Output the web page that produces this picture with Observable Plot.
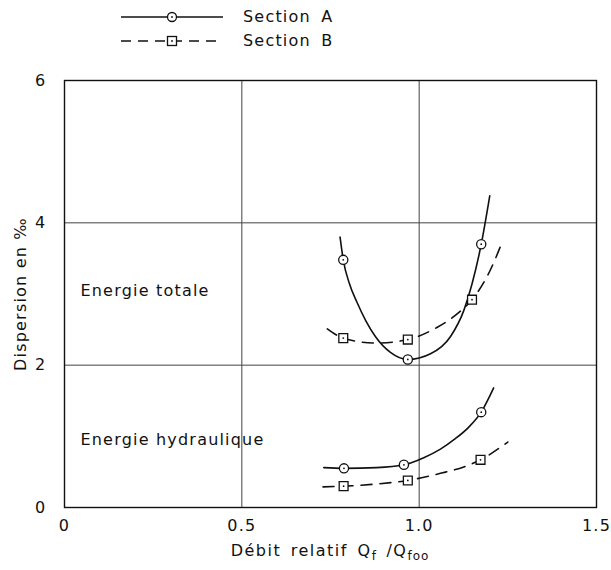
<!DOCTYPE html>
<html>
<head>
<meta charset="utf-8">
<script src="https://cdn.jsdelivr.net/npm/d3@7"></script>
<script src="https://cdn.jsdelivr.net/npm/@observablehq/plot@0.6"></script>
<style>
  body { margin: 0; background: #fff; font-family: "DejaVu Sans", sans-serif; }
  #wrap { width: 611px; height: 570px; position: relative; }
  #legend { height: 56px; position: relative; }
  #legend .row { position: absolute; left: 120px; display: flex; align-items: center; }
  #legend .lab { margin-left: 19px; font-size: 16px; letter-spacing: 1.2px; word-spacing: 4px; color: #111; }
  #xlabel { position: absolute; left: 0; width: 660px; top: 541px; text-align: center; font-size: 16px; letter-spacing: 1.5px; word-spacing: 3px; color: #111; }
  #xlabel sub { font-size: 12px; vertical-align: -4px; letter-spacing: 1px; }
</style>
</head>
<body>
<div id="wrap">
  <div id="legend">
    <div class="row" style="top:7px">
      <svg width="104" height="18"><line x1="1" y1="9" x2="103" y2="9" stroke="#111" stroke-width="1.5"/><circle cx="52" cy="9" r="4.5" fill="#fff" stroke="#111" stroke-width="1.3"/><circle cx="52" cy="9" r="0.9" fill="#111"/></svg>
      <span class="lab">Section A</span>
    </div>
    <div class="row" style="top:31px">
      <svg width="104" height="18"><line x1="1" y1="9" x2="103" y2="9" stroke="#111" stroke-width="1.5" stroke-dasharray="10,7"/><rect x="47.5" y="4.5" width="9" height="9" fill="#fff" stroke="#111" stroke-width="1.3"/><circle cx="52" cy="9" r="0.9" fill="#111"/></svg>
      <span class="lab">Section B</span>
    </div>
  </div>
  <div id="chart"></div>
  <div id="xlabel">Débit relatif Q<sub>f</sub> /Q<sub>foo</sub></div>
</div>
<script>
// ---- data ----
// Energie totale, Section A (curve path points)
const totalA_x = [0.777, 0.786, 0.803, 0.825, 0.850, 0.877, 0.919, 0.968, 1.032, 1.088, 1.126, 1.149, 1.175, 1.199];
const totalA_y = [3.80, 3.48, 3.15, 2.88, 2.62, 2.40, 2.18, 2.08, 2.16, 2.40, 2.77, 3.14, 3.70, 4.38];
// Energie totale, Section B
const totalB_x = [0.741, 0.786, 0.880, 0.968, 1.050, 1.107, 1.149, 1.200, 1.234];
const totalB_y = [2.51, 2.38, 2.31, 2.36, 2.53, 2.72, 2.92, 3.33, 3.73];
// Energie hydraulique, Section A
const hydA_x = [0.731, 0.788, 0.880, 0.957, 1.013, 1.060, 1.100, 1.140, 1.175, 1.210];
const hydA_y = [0.56, 0.55, 0.56, 0.60, 0.70, 0.82, 0.96, 1.13, 1.34, 1.68];
// Energie hydraulique, Section B
const hydB_x = [0.729, 0.787, 0.880, 0.968, 1.060, 1.126, 1.173, 1.250];
const hydB_y = [0.29, 0.30, 0.33, 0.38, 0.48, 0.57, 0.67, 0.92];
// measured points (markers)
const markA_x = [0.786, 0.968, 1.175, 0.788, 0.957, 1.175];
const markA_y = [3.48, 2.08, 3.70, 0.55, 0.60, 1.34];
const markB_x = [0.786, 0.968, 1.149, 0.787, 0.968, 1.173];
const markB_y = [2.38, 2.36, 2.92, 0.30, 0.38, 0.67];
// axes
const xTicks = [0, 0.5, 1.0, 1.5];
const xTickLabels = ["0", "0.5", "1.0", "1.5"];
const yTicks = [0, 2, 4, 6];
const yTickLabels = ["0", "2", "4", "6"];
const gridX = [0.5, 1.0];
const gridY = [2, 4];
// annotations
const annoText = ["Energie totale", "Energie hydraulique"];
const annoX = [0.045, 0.045];
const annoY = [3.05, 0.95];

const zip = (xs, ys) => xs.map((x, i) => ({x, y: ys[i]}));
const tA = zip(totalA_x, totalA_y), tB = zip(totalB_x, totalB_y);
const hA = zip(hydA_x, hydA_y), hB = zip(hydB_x, hydB_y);
const mA = zip(markA_x, markA_y), mB = zip(markB_x, markB_y);
const anno = annoText.map((t, i) => ({t, x: annoX[i], y: annoY[i]}));
const fx = (d) => xTickLabels[xTicks.indexOf(d)];
const fy = (d) => yTickLabels[yTicks.indexOf(d)];

const ink = "#111";
const curve = "monotone-x";
const chart = Plot.plot({
  width: 611,
  height: 484,
  marginTop: 24,
  marginBottom: 33,
  marginLeft: 64,
  marginRight: 15,
  style: {fontFamily: "DejaVu Sans, sans-serif", fontSize: "16px", color: ink, background: "#fff"},
  x: {domain: [0, 1.5], axis: null},
  y: {domain: [0, 6], axis: null},
  marks: [
    Plot.ruleX(gridX, {stroke: "#444", strokeWidth: 1}),
    Plot.ruleY(gridY, {stroke: "#444", strokeWidth: 1}),
    Plot.frame({stroke: ink, strokeWidth: 1.4}),
    Plot.line(tA, {x: "x", y: "y", curve, stroke: ink, strokeWidth: 1.6}),
    Plot.line(hA, {x: "x", y: "y", curve, stroke: ink, strokeWidth: 1.6}),
    Plot.line(tB, {x: "x", y: "y", curve, stroke: ink, strokeWidth: 1.6, strokeDasharray: "11,8"}),
    Plot.line(hB, {x: "x", y: "y", curve, stroke: ink, strokeWidth: 1.6, strokeDasharray: "11,8"}),
    Plot.dot(mA, {x: "x", y: "y", r: 4.6, fill: "#fff", stroke: ink, strokeWidth: 1.3}),
    Plot.dot(mB, {x: "x", y: "y", symbol: "square", r: 5, fill: "#fff", stroke: ink, strokeWidth: 1.3}),
    Plot.dot(mA.concat(mB), {x: "x", y: "y", r: 0.9, fill: ink, stroke: null}),
    Plot.text(anno, {x: "x", y: "y", text: "t", textAnchor: "start", fontSize: 16, fill: ink}),
    Plot.axisX({ticks: xTicks, tickFormat: fx, tickSize: 0, tickPadding: 12, label: null, fontSize: 16}),
    Plot.axisY({ticks: yTicks, tickFormat: fy, tickSize: 0, tickPadding: 18, label: "Dispersion en ‰", labelAnchor: "center", labelOffset: 50, labelArrow: "none", fontSize: 16})
  ]
});
d3.select(chart).selectAll("text").style("letter-spacing", "1.2px");
document.getElementById("chart").appendChild(chart);
</script>
</body>
</html>
